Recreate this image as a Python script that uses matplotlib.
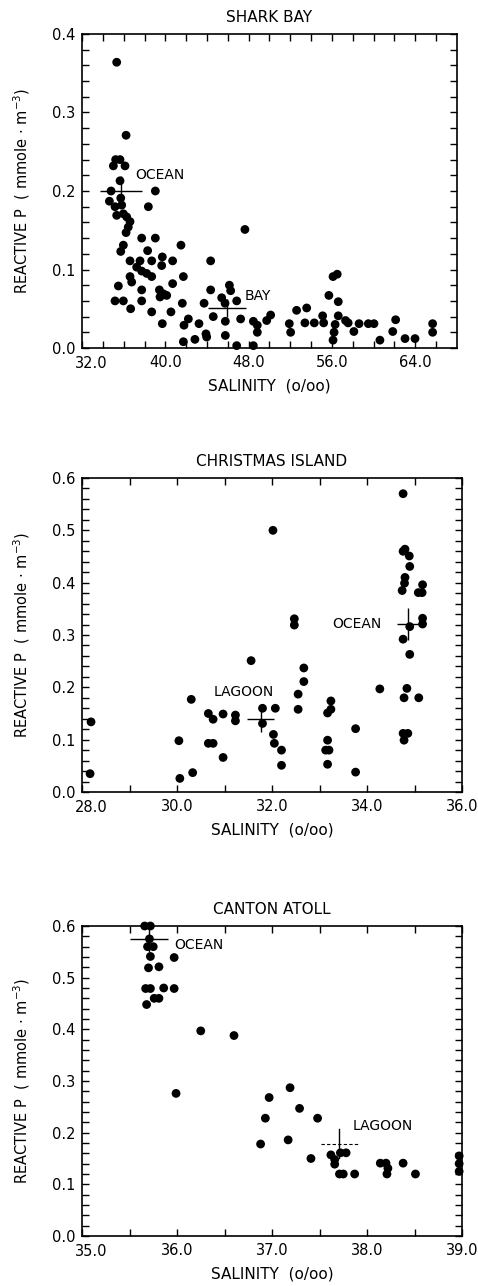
import numpy as np
import matplotlib
matplotlib.use("Agg")
import matplotlib.pyplot as plt
from matplotlib.ticker import FixedLocator, MultipleLocator, FuncFormatter, FormatStrFormatter

plt.rcParams['font.family'] = ['DejaVu Sans']
plt.rcParams['mathtext.fontset'] = 'dejavusans'

# ---------------- Shark Bay ----------------
sb_sal = [35.33, 36.23, 35.23, 35.65, 35.01, 36.13, 35.65, 34.79, 35.72, 34.63,
          35.17, 35.81, 35.33, 35.97, 36.29, 36.61, 36.44, 36.23, 39.04, 38.37,
          47.64, 37.73, 39.04, 41.50, 35.97, 35.72, 44.35, 36.61, 37.57, 38.30,
          38.69, 39.71, 40.70, 39.65, 37.25, 37.73, 38.21, 38.69, 36.61, 36.77,
          41.73, 35.49, 40.70, 46.15, 46.27, 44.35, 39.43, 39.81, 40.13, 39.49,
          37.73, 45.41, 46.85, 35.17, 35.97, 37.73, 41.63, 43.72, 45.73, 36.67,
          38.69, 40.54, 39.71, 41.79, 42.21, 43.23, 44.60, 45.76, 45.76, 47.23,
          48.45, 48.83, 48.83, 49.73, 50.11, 51.90, 52.03, 52.60, 53.57, 53.40,
          54.30, 55.20, 55.10, 55.70, 56.10, 56.50, 56.60, 56.60, 56.30, 56.20,
          56.10, 57.30, 57.55, 58.10, 58.60, 59.49, 60.03, 60.60, 61.83, 62.11,
          63.01, 63.97, 65.66, 65.66, 41.73, 42.84, 43.97, 43.90, 46.85, 48.45]
sb_p = [0.364, 0.271, 0.240, 0.240, 0.232, 0.232, 0.213, 0.200, 0.191, 0.187,
        0.180, 0.182, 0.169, 0.171, 0.167, 0.161, 0.154, 0.147, 0.200, 0.180,
        0.151, 0.140, 0.140, 0.131, 0.131, 0.123, 0.111, 0.111, 0.111, 0.124,
        0.111, 0.116, 0.111, 0.105, 0.103, 0.098, 0.095, 0.091, 0.091, 0.084,
        0.091, 0.079, 0.082, 0.080, 0.073, 0.074, 0.074, 0.069, 0.067, 0.065,
        0.074, 0.064, 0.060, 0.060, 0.060, 0.060, 0.057, 0.057, 0.057, 0.050,
        0.046, 0.046, 0.031, 0.029, 0.037, 0.031, 0.040, 0.034, 0.016, 0.037,
        0.034, 0.029, 0.020, 0.035, 0.042, 0.031, 0.020, 0.048, 0.051, 0.032,
        0.032, 0.032, 0.041, 0.067, 0.091, 0.094, 0.059, 0.041, 0.030, 0.020,
        0.010, 0.035, 0.032, 0.021, 0.031, 0.031, 0.031, 0.010, 0.021, 0.036,
        0.012, 0.012, 0.031, 0.020, 0.008, 0.011, 0.014, 0.018, 0.003, 0.003]
sb_means_sal = [35.72, 45.90]
sb_means_p = [0.200, 0.051]
sb_means_sal_err = [2.0, 1.8]
sb_means_p_err = [0.019, 0.011]
sb_labels = ["OCEAN", "BAY"]

# ---------------- Christmas Island ----------------
ci_sal = [28.19, 28.17, 30.04, 30.06, 30.33, 30.30, 30.66, 30.76, 30.66, 30.76,
          30.97, 30.97, 31.23, 31.23, 31.56, 31.80, 31.80, 32.07, 32.03, 32.05,
          32.20, 32.20, 32.02, 34.76, 34.76, 34.80, 34.89, 34.90, 34.80, 34.79,
          34.74, 35.17, 35.08, 35.16, 32.47, 32.47, 34.90, 35.17, 35.17, 34.76,
          34.90, 32.67, 32.67, 32.55, 32.55, 34.27, 34.84, 34.78, 35.09, 33.24,
          33.24, 33.17, 33.76, 33.17, 33.13, 33.20, 33.17, 33.76, 34.76, 34.86,
          34.78]
ci_p = [0.134, 0.035, 0.098, 0.026, 0.037, 0.177, 0.150, 0.139, 0.093, 0.093,
        0.149, 0.066, 0.147, 0.136, 0.251, 0.160, 0.131, 0.160, 0.110, 0.093,
        0.080, 0.051, 0.500, 0.570, 0.460, 0.464, 0.451, 0.431, 0.410, 0.399,
        0.385, 0.396, 0.381, 0.381, 0.331, 0.319, 0.316, 0.332, 0.321, 0.292,
        0.263, 0.237, 0.211, 0.187, 0.158, 0.197, 0.198, 0.180, 0.180, 0.174,
        0.158, 0.151, 0.121, 0.099, 0.080, 0.080, 0.053, 0.038, 0.112, 0.112,
        0.099]
ci_means_sal = [31.76, 34.86]
ci_means_p = [0.139, 0.321]
ci_means_sal_err = [0.28, 0.23]
ci_means_p_err = [0.024, 0.030]
ci_labels = ["LAGOON", "OCEAN"]

# ---------------- Canton Atoll ----------------
ca_sal = [35.66, 35.72, 35.69, 35.75, 35.71, 35.72, 35.70, 35.81, 35.97, 35.67,
          35.72, 35.86, 35.97, 35.76, 35.81, 35.68, 36.25, 36.60, 35.99, 36.97,
          36.93, 36.88, 37.19, 37.29, 37.48, 37.17, 37.41, 37.62, 37.66, 37.66,
          37.72, 37.78, 37.71, 37.75, 37.87, 38.14, 38.20, 38.22, 38.21, 38.38,
          38.51, 38.97, 38.97, 38.97]
ca_p = [0.600, 0.600, 0.560, 0.560, 0.575, 0.541, 0.519, 0.521, 0.539, 0.479,
        0.479, 0.480, 0.479, 0.460, 0.460, 0.448, 0.397, 0.388, 0.276, 0.268,
        0.228, 0.178, 0.287, 0.247, 0.228, 0.186, 0.150, 0.157, 0.148, 0.139,
        0.161, 0.161, 0.120, 0.120, 0.120, 0.141, 0.141, 0.131, 0.120, 0.141,
        0.120, 0.155, 0.140, 0.125]
ca_means_sal = [35.71, 37.71]
ca_means_p = [0.575, 0.179]
ca_means_sal_err = [0.20, 0.19]
ca_means_p_err = [0.025, 0.028]
ca_labels = ["OCEAN", "LAGOON"]

W, H = 478, 1286
fig = plt.figure(figsize=(W / 100, H / 100), dpi=100)


def axes_px(left, top, right, bottom):
    return fig.add_axes([left / W, 1 - bottom / H, (right - left) / W, (bottom - top) / H])


ax1 = axes_px(82, 34, 457, 348)
ax2 = axes_px(82, 478, 462, 792)
ax3 = axes_px(82, 926, 462, 1236)

YLAB = 'REACTIVE P  ( mmole $\\cdot$ m$^{-3}$)'
XLAB = 'SALINITY  (o/oo)'
TICKFS = 10.5


def style(ax, title, xlim, xmaj, xmin_ticks, ylim):
    ax.set_xlim(*xlim)
    ax.set_ylim(*ylim)
    ax.xaxis.set_major_locator(FixedLocator(xmaj))
    ax.xaxis.set_minor_locator(FixedLocator(xmin_ticks))
    ax.yaxis.set_major_locator(MultipleLocator(0.1))
    ax.yaxis.set_minor_locator(MultipleLocator(0.02))
    first = xmaj[0]
    # first x label is drawn separately, nudged right of the corner
    ax.xaxis.set_major_formatter(FuncFormatter(
        lambda v, pos: '' if abs(v - first) < 1e-9 else '%.1f' % v))
    ax.yaxis.set_major_formatter(FormatStrFormatter('%.1f'))
    ax.tick_params(which='both', direction='in', top=True, right=True,
                   length=5, width=1.0, labelsize=TICKFS)
    ax.tick_params(axis='x', pad=5)
    ax.tick_params(axis='y', pad=5)
    for sp in ax.spines.values():
        sp.set_linewidth(1.2)
    ax.annotate('%.1f' % first, xy=(0, 0), xycoords='axes fraction',
                xytext=(-5, -6), textcoords='offset points',
                ha='left', va='top', fontsize=TICKFS)
    ax.set_title(title, fontsize=11, pad=9)
    ax.set_xlabel(XLAB, fontsize=11, labelpad=6)
    ax.set_ylabel(YLAB, fontsize=10.5, labelpad=14)


def dots(ax, x, y):
    ax.scatter(x, y, s=40, color='black', edgecolors='none', clip_on=False, zorder=3)


# Panel 1
dots(ax1, sb_sal, sb_p)
ax1.errorbar(sb_means_sal, sb_means_p, xerr=sb_means_sal_err, yerr=sb_means_p_err,
             fmt='none', ecolor='black', elinewidth=1.0, capsize=0, zorder=4)
ax1.text(37.1, 0.212, sb_labels[0], fontsize=10, ha='left', va='bottom')
ax1.text(47.6, 0.057, sb_labels[1], fontsize=10, ha='left', va='bottom')
style(ax1, 'SHARK BAY', (32.0, 68.0), [32, 40, 48, 56, 64], np.arange(34, 67, 2), (0, 0.4))

# Panel 2
dots(ax2, ci_sal, ci_p)
ax2.errorbar(ci_means_sal, ci_means_p, xerr=ci_means_sal_err, yerr=ci_means_p_err,
             fmt='none', ecolor='black', elinewidth=1.0, capsize=0, zorder=4)
ax2.text(30.78, 0.178, ci_labels[0], fontsize=10, ha='left', va='bottom')
ax2.text(34.31, 0.321, ci_labels[1], fontsize=10, ha='right', va='center')
style(ax2, 'CHRISTMAS ISLAND', (28.0, 36.0), [28, 30, 32, 34, 36], np.arange(29, 36, 1), (0, 0.6))

# Panel 3
dots(ax3, ca_sal, ca_p)
ax3.errorbar([ca_means_sal[0]], [ca_means_p[0]], xerr=[ca_means_sal_err[0]],
             yerr=[ca_means_p_err[0]], fmt='none', ecolor='black', elinewidth=1.0,
             capsize=0, zorder=4, clip_on=False)
ax3.plot([ca_means_sal[1] - ca_means_sal_err[1], ca_means_sal[1] + ca_means_sal_err[1]],
         [ca_means_p[1], ca_means_p[1]], color='black', lw=0.8, ls=(0, (3, 2)), zorder=4)
ax3.plot([ca_means_sal[1], ca_means_sal[1]],
         [ca_means_p[1] - ca_means_p_err[1], ca_means_p[1] + ca_means_p_err[1]],
         color='black', lw=1.0, zorder=4)
ax3.text(35.97, 0.563, ca_labels[0], fontsize=10, ha='left', va='center')
ax3.text(37.85, 0.200, ca_labels[1], fontsize=10, ha='left', va='bottom')
style(ax3, 'CANTON ATOLL', (35.0, 39.0), [35, 36, 37, 38, 39], np.arange(35.5, 39, 0.5), (0, 0.6))

fig.savefig('out.png', dpi=100)
